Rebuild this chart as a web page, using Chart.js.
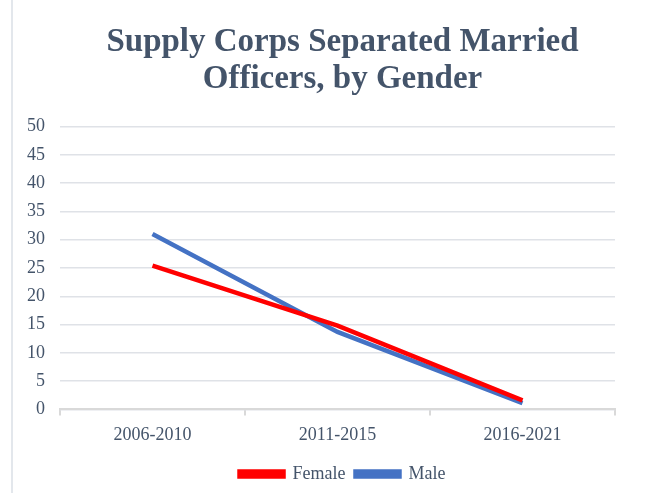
<!DOCTYPE html>
<html>
<head>
<meta charset="utf-8">
<script src="https://cdn.jsdelivr.net/npm/chart.js@4.4.0/dist/chart.umd.min.js"></script>
<style>
  html, body { margin: 0; padding: 0; background: #fff; }
  #wrap { position: relative; width: 661px; height: 493px; }
  #edge { position: absolute; left: 11px; top: 0; width: 2px; height: 493px; background: #e3e7ec; }
</style>
</head>
<body>
<div id="wrap">
  <div id="edge"></div>
  <canvas id="chart" width="661" height="493"></canvas>
</div>
<script>
const periods = ['2006-2010', '2011-2015', '2016-2021'];
const femaleValues = [25.4, 14.8, 1.6];
const maleValues = [31.0, 13.7, 1.1];
const yTicks = [0, 5, 10, 15, 20, 25, 30, 35, 40, 45, 50];

const serif = "'Liberation Serif', 'Times New Roman', serif";
const textColor = '#44546a';

// title and legend are centred on the whole sheet in the original, not on the
// box left of the plot's right edge, so nudge them over a bit
const shiftBlocks = {
  id: 'shiftBlocks',
  afterLayout(chart) {
    const dx = 29;
    [chart.titleBlock, chart.legend].forEach(b => {
      if (!b) return;
      b.left += dx;
      b.right += dx;
    });
  }
};

new Chart(document.getElementById('chart').getContext('2d'), {
  type: 'line',
  data: {
    labels: periods,
    datasets: [
      {
        label: 'Female',
        data: femaleValues,
        borderColor: '#ff0000',
        backgroundColor: '#ff0000',
        borderWidth: 4.5,
        pointRadius: 0,
        tension: 0
      },
      {
        label: 'Male',
        data: maleValues,
        borderColor: '#4472c4',
        backgroundColor: '#4472c4',
        borderWidth: 4.5,
        pointRadius: 0,
        tension: 0
      }
    ]
  },
  options: {
    responsive: false,
    animation: false,
    layout: { padding: { left: 12, right: 46, top: 15, bottom: 0 } },
    plugins: {
      title: {
        display: true,
        text: ['Supply Corps Separated Married', 'Officers, by Gender'],
        color: textColor,
        font: { family: serif, size: 33, weight: 'bold', lineHeight: 1.13 },
        padding: { top: 9, bottom: 28 }
      },
      legend: {
        position: 'bottom',
        labels: {
          color: textColor,
          font: { family: serif, size: 18 },
          boxWidth: 44,
          boxHeight: 5,
          padding: 10
        }
      },
      tooltip: { enabled: false }
    },
    scales: {
      x: {
        offset: true,
        grid: { offset: true, drawOnChartArea: false, drawTicks: true, tickLength: 6, color: '#d9d9d9', lineWidth: 2 },
        border: { display: true, color: '#d9d9d9', width: 2 },
        ticks: { color: textColor, font: { family: serif, size: 18 }, padding: 9 }
      },
      y: {
        min: 0,
        max: 50,
        afterBuildTicks: (axis) => { axis.ticks = yTicks.map(v => ({ value: v })); },
        grid: { color: '#dfe2e7', lineWidth: 1.5, drawTicks: false },
        border: { display: false },
        ticks: { color: textColor, font: { family: serif, size: 18 }, padding: 15 }
      }
    }
  },
  plugins: [shiftBlocks]
});
</script>
</body>
</html>
